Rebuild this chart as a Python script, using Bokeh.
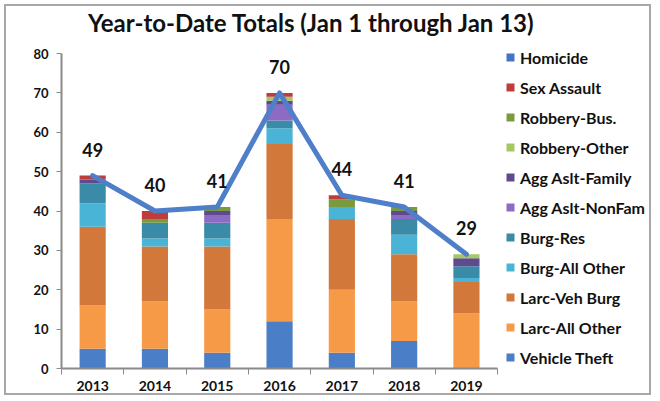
from bokeh.plotting import figure
from bokeh.models import (ColumnDataSource, Range1d, FixedTicker, Legend, LegendItem,
                          LabelSet, Label)
from bokeh.core.properties import value
from bokeh.embed import file_html
from bokeh.resources import INLINE

years = ["2013", "2014", "2015", "2016", "2017", "2018", "2019"]
vehicle_theft  = [5, 5, 4, 12, 4, 7, 0]
larc_all_other = [11, 12, 11, 26, 16, 10, 14]
larc_veh_burg  = [20, 14, 16, 19, 18, 12, 8]
burg_all_other = [6, 2, 2, 4, 3, 5, 1]
burg_res       = [5, 4, 4, 2, 0, 4, 3]
agg_nonfam     = [0, 0, 2, 4, 0, 1, 0]
agg_family     = [1, 0, 1, 1, 0, 1, 2]
robbery_other  = [0, 0, 0, 1, 0, 0, 1]
robbery_bus    = [0, 1, 1, 0, 2, 1, 0]
sex_assault    = [1, 2, 0, 1, 1, 0, 0]
homicide       = [0, 0, 0, 0, 0, 0, 0]
totals         = [49, 40, 41, 70, 44, 41, 29]
y_ticks        = [0, 10, 20, 30, 40, 50, 60, 70, 80]
title_text     = "Year-to-Date Totals (Jan 1 through Jan 13)"

# stacking order bottom -> top
series = [
    ("Vehicle Theft", vehicle_theft, "#4A7EC7"),
    ("Larc-All Other", larc_all_other, "#F79A48"),
    ("Larc-Veh Burg", larc_veh_burg, "#D2783A"),
    ("Burg-All Other", burg_all_other, "#4AB4D6"),
    ("Burg-Res", burg_res, "#3A8BA8"),
    ("Agg Aslt-NonFam", agg_nonfam, "#8C6BC4"),
    ("Agg Aslt-Family", agg_family, "#5E4A8C"),
    ("Robbery-Other", robbery_other, "#A5C862"),
    ("Robbery-Bus.", robbery_bus, "#7A9A3E"),
    ("Sex Assault", sex_assault, "#BE3D3A"),
    ("Homicide", homicide, "#4472C4"),
]

xs = list(range(len(years)))
data = {"x": xs, "total": totals, "label": [str(t) for t in totals]}
keys = []
for i, (name, vals, col) in enumerate(series):
    k = "s%d" % i
    data[k] = vals
    keys.append(k)
src = ColumnDataSource(data)

FONT = "Lato"
W, H = 647, 391
LEFT, RIGHT, BOTTOM = 55, 3, 29
frame_w = W - LEFT - RIGHT
frame_h = H - BOTTOM
cat_px = 62.3
x_end = -0.5 + frame_w / cat_px
px_per_unit = 315 / 80.0
y_end = 80 + (frame_h - 315) / px_per_unit

p = figure(width=W, height=H, output_backend="svg", toolbar_location=None,
           x_range=Range1d(-0.5, x_end), y_range=Range1d(0, y_end),
           min_border_left=LEFT, min_border_right=RIGHT, min_border_bottom=BOTTOM,
           min_border_top=0)
p.styles = {"border": "2px solid #a8a8a8", "margin-left": "4px", "margin-top": "4px"}
p.title.visible = False

renderers = p.vbar_stack(keys, x="x", width=0.42, source=src,
                         color=[c for _, _, c in series], line_color=None)

p.line("x", "total", source=src, line_width=5, color="#4F7FC8",
       line_join="round", line_cap="round")

labels = LabelSet(x="x", y="total", text="label", source=src, y_offset=26,
                  text_align="center", text_baseline="middle",
                  text_font=value(FONT), text_font_size=value("18px"),
                  text_font_style="bold", text_color="#111111")
p.add_layout(labels)

title = Label(x=250, y=frame_h - 16, x_units="screen", y_units="screen",
              text=title_text, text_align="center", text_baseline="middle",
              text_font=FONT, text_font_size="24px", text_font_style="bold",
              text_color="#111111")
p.add_layout(title)

items = [LegendItem(label=name, renderers=[r])
         for (name, _, _), r in zip(series, renderers)]
items = items[::-1]
legend = Legend(items=items, location=(444, 1), orientation="vertical",
                margin=0, padding=0, spacing=10, label_height=20,
                glyph_height=10, glyph_width=10, label_standoff=5,
                label_text_font=FONT, label_text_font_size="16px",
                label_text_font_style="bold", label_text_color="#111111",
                border_line_color=None, background_fill_alpha=0)
p.add_layout(legend, "center")

p.xgrid.visible = False
p.ygrid.visible = False
p.outline_line_color = None

xa = p.xaxis[0]
xa.bounds = (-0.5, len(years) - 0.5)
xa.ticker = FixedTicker(ticks=xs, minor_ticks=[i - 0.5 for i in range(len(years) + 1)])
xa.major_label_overrides = {i: y for i, y in enumerate(years)}
xa.major_tick_line_color = None
xa.minor_tick_line_color = "#8a8a8a"
xa.minor_tick_out = 6
xa.minor_tick_in = 0
xa.axis_line_color = "#8a8a8a"
xa.axis_line_width = 2
xa.major_label_text_font = FONT
xa.major_label_text_font_size = "14px"
xa.major_label_text_font_style = "bold"
xa.major_label_text_color = "#111111"
xa.major_label_standoff = 6

ya = p.yaxis[0]
ya.bounds = (0, 80)
ya.ticker = FixedTicker(ticks=y_ticks)
ya.major_tick_line_color = "#8a8a8a"
ya.major_tick_out = 5
ya.major_tick_in = 0
ya.minor_tick_line_color = None
ya.axis_line_color = "#8a8a8a"
ya.axis_line_width = 2
ya.major_label_text_font = FONT
ya.major_label_text_font_size = "13px"
ya.major_label_text_font_style = "bold"
ya.major_label_text_color = "#111111"
ya.major_label_standoff = 8

open("out.html", "w").write(file_html(p, INLINE))
